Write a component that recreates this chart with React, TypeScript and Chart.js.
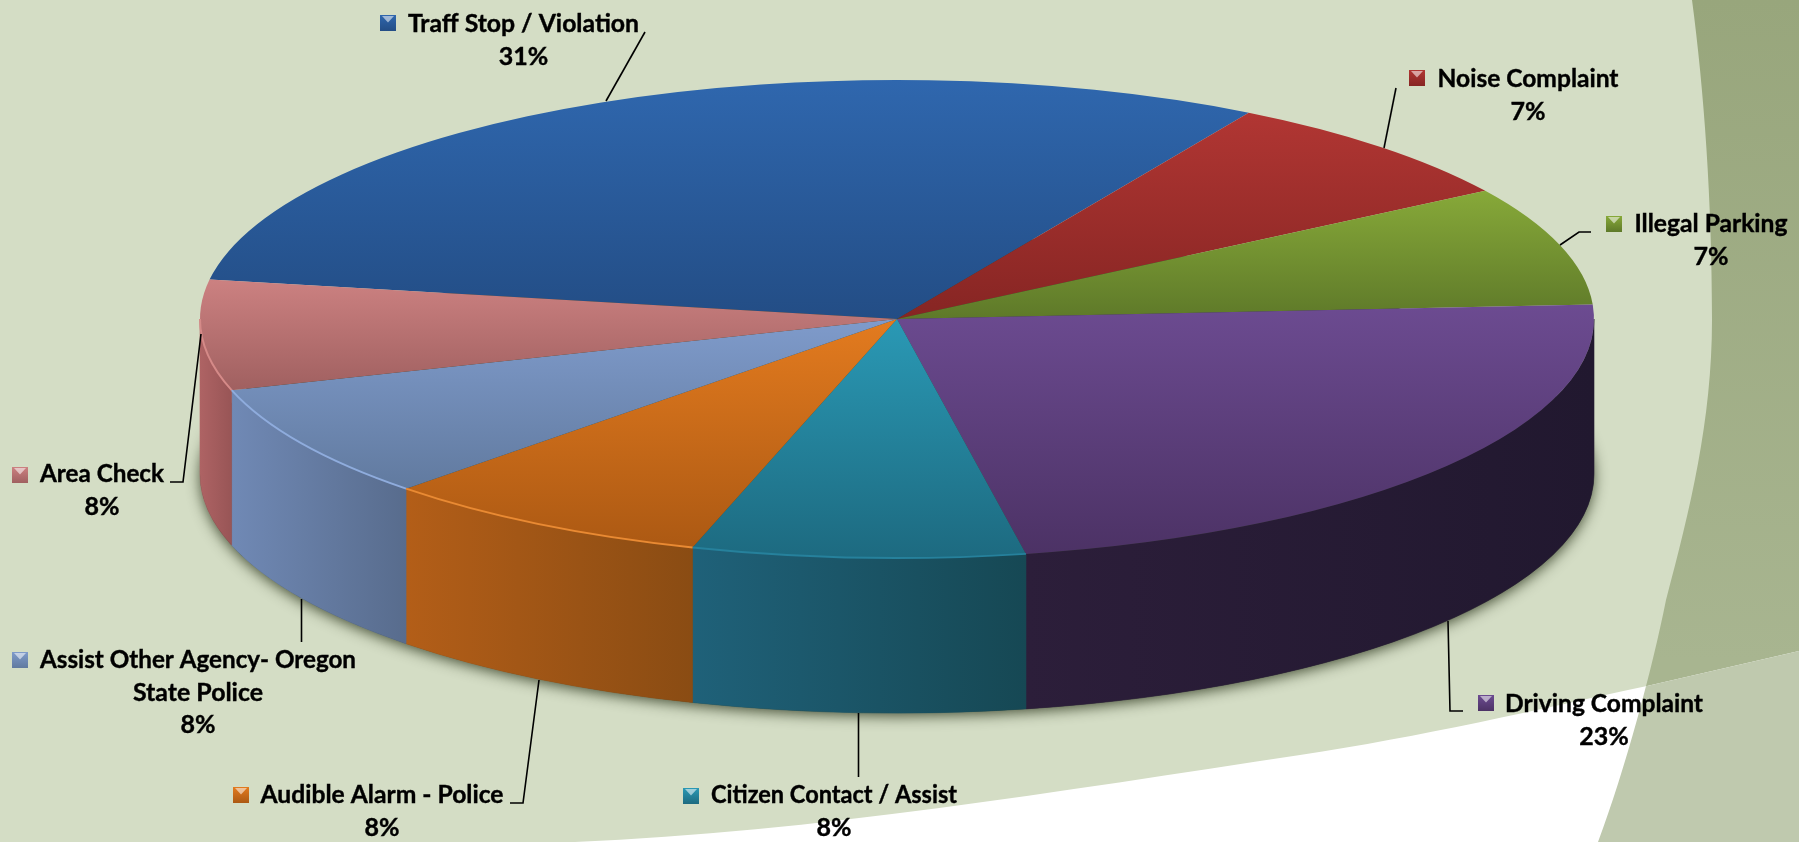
import React, { useEffect, useRef } from "react";
import { Chart, registerables } from "chart.js";

Chart.register(...registerables);

// ---- data ----
const categories = [
  "Traff Stop / Violation",
  "Noise Complaint",
  "Illegal Parking",
  "Driving Complaint",
  "Citizen Contact / Assist",
  "Audible Alarm - Police",
  "Assist Other Agency- Oregon State Police",
  "Area Check",
];
const values = [30.78, 7.57, 8.05, 23, 7.7, 7.7, 7.75, 7.45];
const percentLabels = ["31%", "7%", "7%", "23%", "8%", "8%", "8%", "8%"];
const labelLines = [
  ["Traff Stop / Violation"],
  ["Noise Complaint"],
  ["Illegal Parking"],
  ["Driving Complaint"],
  ["Citizen Contact / Assist"],
  ["Audible Alarm - Police"],
  ["Assist Other Agency- Oregon", "State Police"],
  ["Area Check"],
];

// ---- styling and layout ----
const topLight = ["#2F67AE", "#B13633", "#87A939", "#6C4B91", "#2A99B5", "#E37B1F", "#7F9BCB", "#CC8181"];
const topDark = ["#234D85", "#862523", "#5E7929", "#4C3265", "#1D6A80", "#AC5913", "#617A9F", "#A06060"];
const wallLeft = ["#234D85", "#862523", "#5E7929", "#2C1E3A", "#1F6179", "#B35E18", "#7089B5", "#AE6364"];
const wallRight = ["#234D85", "#862523", "#5E7929", "#21182F", "#164854", "#8A4C13", "#586C8D", "#985556"];
const rimLight = ["#3A77C0", "#C04A46", "#97BA45", "#7A58A3", "#26819C", "#E98A33", "#8FACDD", "#D58A88"];

const PIE = { cx: 897, cy: 319, rx: 697, ry: 239, depth: 155 };
const FONT = "bold 25px Lato";
const LINE_HEIGHT = 32.5;

const labelCenterX = [523.5, 1528, 1711, 1604, 834, 382, 198, 102];
const labelBaseline = [32, 87, 232, 712, 803, 803, 668, 482];
const labelMaxWidth = [
  [231],
  [181],
  [153],
  [198],
  [246],
  [243],
  [316, 130],
  [124],
];
const markerX = [380, 1409, 1606, 1478, 683, 233, 12, 12];
const markerY = [15, 70, 216, 695, 788, 787, 652, 467];
const leaders: number[][][] = [
  [[645, 32], [606, 101]],
  [[1396, 88], [1384, 148]],
  [[1591, 232], [1579, 232], [1560, 245]],
  [[1448, 621], [1450, 711], [1463, 711]],
  [[858.5, 713], [858.5, 777]],
  [[539, 680], [523, 803], [510, 803]],
  [[301.5, 599], [301.5, 642]],
  [[201, 334], [183, 482], [170, 482]],
];

function drawBackground(ctx: CanvasRenderingContext2D) {
  const W = 1799;
  const H = 842;
  ctx.save();
  ctx.fillStyle = "#ffffff";
  ctx.fillRect(0, 0, 1811, H);
  ctx.beginPath();
  ctx.rect(0, 0, W, H);
  ctx.clip();
  ctx.fillStyle = "#D4DDC5";
  ctx.fillRect(0, 0, W, H);

  const bandPath = () => {
    ctx.beginPath();
    ctx.moveTo(1692, 0);
    ctx.bezierCurveTo(1704, 90, 1712, 200, 1712, 320);
    ctx.bezierCurveTo(1712, 420, 1690, 510, 1666, 600);
    ctx.bezierCurveTo(1652, 670, 1625, 770, 1598, 842);
    ctx.lineTo(W, H);
    ctx.lineTo(W, 0);
    ctx.closePath();
  };
  const swooshPath = () => {
    ctx.beginPath();
    ctx.moveTo(575, H);
    ctx.bezierCurveTo(815, 832, 1060, 791, 1300, 755);
    ctx.bezierCurveTo(1420, 737, 1540, 709, 1647, 686);
    ctx.lineTo(W, 651);
    ctx.lineTo(W, H);
    ctx.closePath();
  };

  bandPath();
  const g = ctx.createLinearGradient(0, 0, 0, 660);
  g.addColorStop(0, "#98A67C");
  g.addColorStop(1, "#A8B590");
  ctx.fillStyle = g;
  ctx.fill();

  swooshPath();
  ctx.fillStyle = "#ffffff";
  ctx.fill();

  ctx.save();
  bandPath();
  ctx.clip();
  swooshPath();
  ctx.fillStyle = "#BFC9AE";
  ctx.fill();
  ctx.restore();
  ctx.restore();
}

function drawWalls(ctx: CanvasRenderingContext2D, arcs: any[]) {
  const { cx, cy, rx, ry, depth } = PIE;
  ctx.save();
  ctx.beginPath();
  ctx.ellipse(cx, cy + depth, rx, ry, 0, 0, 2 * Math.PI);
  ctx.closePath();
  ctx.shadowColor = "rgba(35,45,20,0.8)";
  ctx.shadowBlur = 14;
  ctx.shadowOffsetY = 3;
  ctx.fillStyle = "#33402a";
  ctx.fill();
  ctx.restore();

  arcs.forEach((arc, i) => {
    const s = arc.startAngle;
    const e = arc.endAngle;
    for (let k = -1; k <= 1; k++) {
      const lo = Math.max(s, 2 * Math.PI * k);
      const hi = Math.min(e, Math.PI + 2 * Math.PI * k);
      if (hi <= lo) continue;
      const x1 = cx + rx * Math.cos(hi);
      const x2 = cx + rx * Math.cos(lo);
      const g = ctx.createLinearGradient(x1, 0, x2, 0);
      g.addColorStop(0, wallLeft[i]);
      g.addColorStop(1, wallRight[i]);
      ctx.beginPath();
      ctx.ellipse(cx, cy, rx, ry, 0, lo, hi);
      ctx.ellipse(cx, cy + depth, rx, ry, 0, hi, lo, true);
      ctx.closePath();
      ctx.fillStyle = g;
      ctx.fill();
      ctx.strokeStyle = g;
      ctx.lineWidth = 0.6;
      ctx.stroke();
    }
  });
}

function drawRims(ctx: CanvasRenderingContext2D, arcs: any[]) {
  const { cx, cy, rx, ry } = PIE;
  arcs.forEach((arc, i) => {
    for (let k = -1; k <= 1; k++) {
      const lo = Math.max(arc.startAngle, 2 * Math.PI * k);
      const hi = Math.min(arc.endAngle, Math.PI + 2 * Math.PI * k);
      if (hi <= lo || i === 3) continue;
      ctx.beginPath();
      ctx.ellipse(cx, cy, rx, ry, 0, lo, hi);
      ctx.strokeStyle = rimLight[i];
      ctx.lineWidth = 2;
      ctx.stroke();
    }
  });
}

function drawMarker(ctx: CanvasRenderingContext2D, i: number) {
  const x = markerX[i];
  const y = markerY[i];
  const s = 16;
  const g = ctx.createLinearGradient(0, y, 0, y + s);
  g.addColorStop(0, topLight[i]);
  g.addColorStop(1, topDark[i]);
  ctx.fillStyle = g;
  ctx.fillRect(x, y, s, s);
  ctx.fillStyle = "rgba(255,255,255,0.55)";
  ctx.beginPath();
  ctx.moveTo(x + 2, y + 1);
  ctx.lineTo(x + s - 2, y + 1);
  ctx.lineTo(x + s / 2, y + 7.5);
  ctx.closePath();
  ctx.fill();
}

function drawAnnotations(ctx: CanvasRenderingContext2D) {
  ctx.save();
  ctx.strokeStyle = "#000000";
  ctx.lineWidth = 1.6;
  leaders.forEach((pts) => {
    ctx.beginPath();
    pts.forEach(([x, y], j) => (j ? ctx.lineTo(x, y) : ctx.moveTo(x, y)));
    ctx.stroke();
  });
  ctx.font = FONT;
  ctx.textAlign = "center";
  ctx.textBaseline = "alphabetic";
  ctx.lineWidth = 0.4;
  categories.forEach((_, i) => {
    drawMarker(ctx, i);
    ctx.fillStyle = "#000000";
    const lines = [...labelLines[i], percentLabels[i]];
    lines.forEach((t, j) => {
      const y = labelBaseline[i] + j * LINE_HEIGHT;
      const max = labelMaxWidth[i][j] ?? 100;
      ctx.fillText(t, labelCenterX[i], y, max);
      ctx.strokeText(t, labelCenterX[i], y, max);
    });
  });
  ctx.restore();
}

const pie3d = {
  id: "pie3d",
  beforeDraw(chart: any) {
    drawBackground(chart.ctx);
  },
  beforeDatasetsDraw(chart: any) {
    const ctx = chart.ctx;
    const arcs = chart.getDatasetMeta(0).data;
    drawWalls(ctx, arcs);
    const a = arcs[0];
    ctx.save();
    ctx.translate(PIE.cx, PIE.cy);
    ctx.scale(PIE.rx / a.outerRadius, PIE.ry / a.outerRadius);
    ctx.translate(-a.x, -a.y);
  },
  afterDatasetsDraw(chart: any) {
    const ctx = chart.ctx;
    ctx.restore();
    drawRims(ctx, chart.getDatasetMeta(0).data);
    drawAnnotations(ctx);
  },
};

function sliceGradient(c: any) {
  const chart = c.chart;
  const i = c.dataIndex;
  const area = chart.chartArea;
  if (!area) return topLight[i];
  const total = values.reduce((p, v) => p + v, 0);
  const before = values.slice(0, i).reduce((p, v) => p + v, 0);
  const start = ((279.5 - 90) * Math.PI) / 180 + (before / total) * 2 * Math.PI;
  const end = start + (values[i] / total) * 2 * Math.PI;
  const R = Math.min(area.right - area.left, area.bottom - area.top) / 2;
  const y0 = (area.top + area.bottom) / 2;
  let minS = 0;
  let maxS = 0;
  for (let t = 0; t <= 60; t++) {
    const v = Math.sin(start + ((end - start) * t) / 60);
    minS = Math.min(minS, v);
    maxS = Math.max(maxS, v);
  }
  const g = chart.ctx.createLinearGradient(0, y0 + R * minS, 0, y0 + R * maxS);
  g.addColorStop(0, topLight[i]);
  g.addColorStop(1, topDark[i]);
  return g;
}

export default function App() {
  const ref = useRef<HTMLCanvasElement | null>(null);
  useEffect(() => {
    const chart = new Chart(ref.current as HTMLCanvasElement, {
      type: "pie",
      data: {
        labels: categories,
        datasets: [
          {
            data: values,
            backgroundColor: sliceGradient,
            borderWidth: 0,
            clip: false,
          } as any,
        ],
      },
      options: {
        responsive: false,
        devicePixelRatio: 1,
        animation: false,
        rotation: 279.5,
        layout: { padding: 0 },
        plugins: { legend: { display: false }, tooltip: { enabled: false } },
      },
      plugins: [pie3d],
    } as any);
    return () => chart.destroy();
  }, []);
  return (
    <canvas
      ref={ref}
      width={1811}
      height={842}
      style={{ position: "absolute", left: 0, top: 0, display: "block" }}
    />
  );
}
